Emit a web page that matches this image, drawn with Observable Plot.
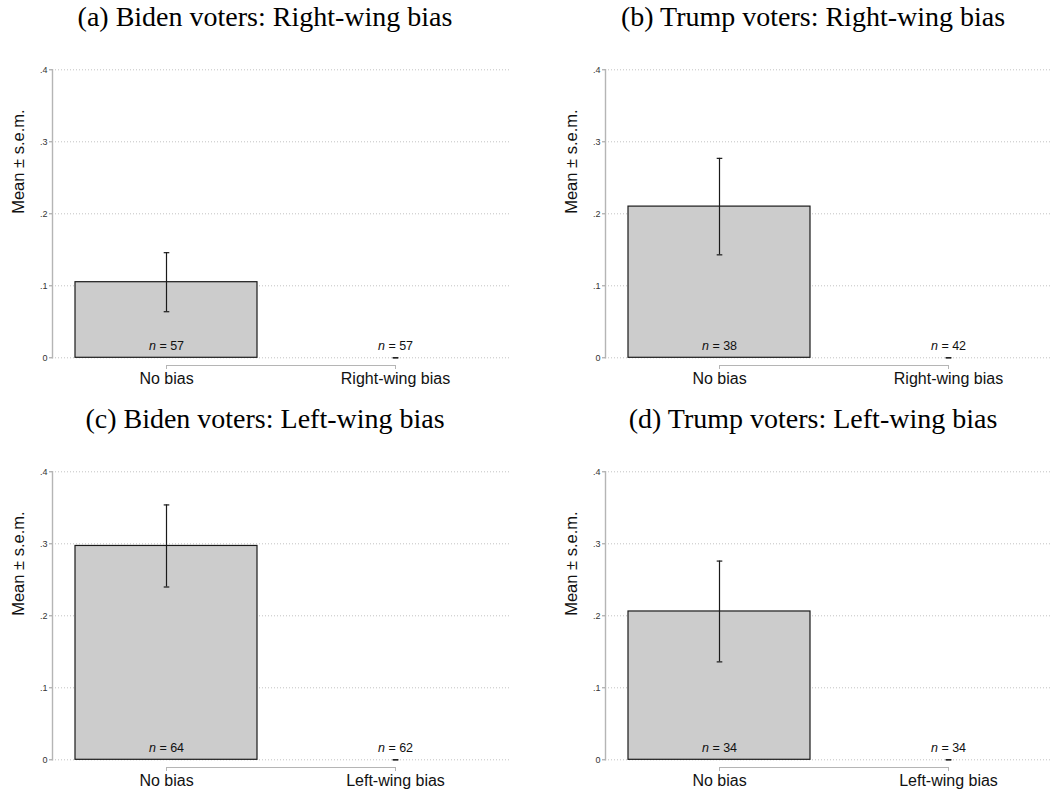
<!DOCTYPE html>
<html><head><meta charset="utf-8">
<script src="https://cdn.jsdelivr.net/npm/d3@7"></script>
<script src="https://cdn.jsdelivr.net/npm/@observablehq/plot@0.6"></script>
<style>
html,body{margin:0;padding:0;background:#fff;overflow:hidden;width:1051px;height:792px}
#root{position:relative;width:1051px;height:792px;overflow:hidden}
.title{position:absolute;font-family:"Liberation Serif","Times New Roman",serif;font-size:28px;line-height:34px;white-space:nowrap;text-align:center;color:#000;width:600px}
.panel{position:absolute}
</style></head>
<body><div id="root"></div>
<script>
// ---- data ----
const panelTitles = [
  "(a) Biden voters: Right-wing bias",
  "(b) Trump voters: Right-wing bias",
  "(c) Biden voters: Left-wing bias",
  "(d) Trump voters: Left-wing bias"
];
const panelCategories = [
  ["No bias", "Right-wing bias"],
  ["No bias", "Right-wing bias"],
  ["No bias", "Left-wing bias"],
  ["No bias", "Left-wing bias"]
];
const meanValues = [[0.105, 0], [0.210, 0], [0.297, 0], [0.206, 0]];
const semValues  = [[0.041, 0], [0.067, 0], [0.057, 0], [0.070, 0]];
const nValues    = [[57, 57], [38, 42], [64, 62], [34, 34]];
const yTicks = [0, 0.1, 0.2, 0.3, 0.4];
const yLabel = "Mean ± s.e.m.";

// ---- layout ----
const panelLeft = [0, 553, 0, 553];
const panelTop = [40, 40, 442, 442];
const titleCenter = [265, 813, 265, 813];
const titleTop = [0, 0, 402, 402];

const fmt = d => d === 0 ? "0" : d3.format(".1f")(d).replace(/^0/, "");
const cap = {draw(ctx) { ctx.moveTo(-2.8, 0); ctx.lineTo(2.8, 0); }};

const root = document.getElementById("root");

for (let p = 0; p < 4; p++) {
  const cats = panelCategories[p];
  const data = cats.map((c, i) => ({
    cat: c,
    mean: meanValues[p][i],
    lo: meanValues[p][i] - semValues[p][i],
    hi: meanValues[p][i] + semValues[p][i],
    n: nValues[p][i]
  }));

  const t = document.createElement("div");
  t.className = "title";
  t.style.left = (titleCenter[p] - 300) + "px";
  t.style.top = titleTop[p] + "px";
  t.textContent = panelTitles[p];
  root.appendChild(t);

  const chart = Plot.plot({
    width: 525, height: 352,
    marginLeft: 52, marginRight: 16, marginTop: 29.3, marginBottom: 34.7,
    style: {fontFamily: "'Liberation Sans', Arial, sans-serif", background: "transparent", overflow: "visible"},
    x: {domain: cats, paddingInner: 0.205, paddingOuter: 0.1, label: null},
    y: {domain: [0, 0.4], label: null},
    marks: [
      Plot.ruleY(yTicks, {stroke: "#c2c2c2", strokeDasharray: "1,2", strokeWidth: 1}),
      Plot.barY(data.filter(d => d.mean > 0), {x: "cat", y: "mean", fill: "#cccccc", stroke: "#1a1a1a", strokeWidth: 1.2}),
      Plot.ruleX(data, {x: "cat", y1: "lo", y2: "hi", stroke: "#1a1a1a", strokeWidth: 1.2}),
      Plot.dot(data, {x: "cat", y: "hi", symbol: cap, r: 3, fill: "none", stroke: "#1a1a1a", strokeWidth: 1.2}),
      Plot.dot(data, {x: "cat", y: "lo", symbol: cap, r: 3, fill: "none", stroke: "#1a1a1a", strokeWidth: 1.2}),
      Plot.text(data, {x: "cat", y: () => 0, dy: -11.5, text: d => "n = " + d.n, fontSize: 12.5, fill: "#111"}),
      Plot.frame({anchor: "left", stroke: "#b5b5b5", strokeWidth: 1.4}),
      Plot.axisY({ticks: yTicks, tickSize: 3, tickPadding: 2, tickFormat: fmt, fontSize: 9, stroke: "#999", fill: "#333", label: null}),
      Plot.link([0], {x1: [cats[0]], x2: [cats[1]], y1: [0], y2: [0], dy: 7.7, stroke: "#b5b5b5", strokeWidth: 1.2}),
      Plot.axisX({tickSize: 4, tickPadding: 3, dy: 7.7, fontSize: 16, stroke: "#b5b5b5", fill: "#111", label: null}),
      Plot.text([yLabel], {frameAnchor: "left", rotate: -90, dx: -33.5, fontSize: 16.5, fill: "#111"})
    ]
  });

  d3.select(chart).selectAll("text")
    .filter(function () { return /^n = /.test(this.textContent); })
    .each(function () {
      const rest = this.textContent.slice(1);
      this.textContent = "";
      d3.select(this).append("tspan").attr("font-style", "italic").text("n");
      d3.select(this).append("tspan").text(rest);
    });

  chart.classList.add("panel");
  chart.style.position = "absolute";
  chart.style.left = panelLeft[p] + "px";
  chart.style.top = panelTop[p] + "px";
  root.appendChild(chart);
}
</script>
</body></html>
